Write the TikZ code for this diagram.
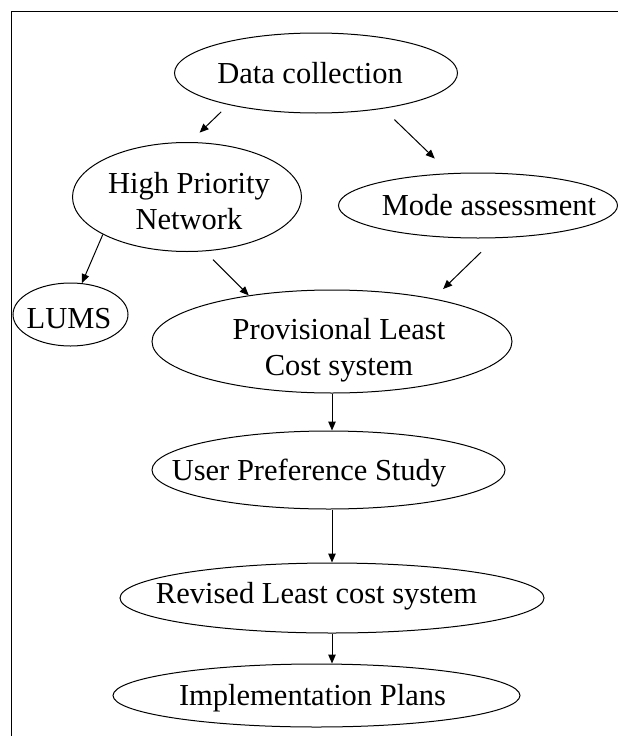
\documentclass[tikz,border=0pt]{standalone}
\usepackage{fontspec}
\setmainfont{Liberation Serif}
\usetikzlibrary{shapes.geometric,arrows.meta}

\begin{document}
\begin{tikzpicture}[x=1pt,y=-1pt,
    oval/.style={draw,ellipse,inner sep=0pt,line width=1pt},
    lbl/.style={inner sep=0pt,anchor=base,align=center,font=\fontsize{30.5}{35.5}\selectfont},
    arr/.style={line width=1pt,-{Triangle[length=9pt,width=7.5pt]}}]
  \useasboundingbox (0,0) rectangle (618,736);
  \draw[line width=1.3pt] (618,11.5) -- (11.5,11.5) -- (11.5,736);

  % the ellipses
  \foreach \n/\x/\y/\w/\h in {data/316/73/283/80, hpn/187/197/229/109,
      mode/478/205.5/279/65, lums/70.5/314.5/115/63, prov/332/341.5/360/103,
      user/328.5/470/353/78, revised/332/598/424/70, impl/316.5/695.5/407/63} {
    \node[oval,minimum width=\w,minimum height=\h] (\n) at (\x,\y) {};
  }

  % their texts (two-line ones sit on their last line)
  \node[lbl] (data-t) at (310,83) {Data collection};
  \node[lbl] (hpn-t) at (189,229) {High Priority\\Network};
  \node[lbl] (mode-t) at (489,215) {Mode assessment};
  \node[lbl] (lums-t) at (69,328) {LUMS};
  \node[lbl] (prov-t) at (339,375) {Provisional Least\\Cost system};
  \node[lbl] (user-t) at (309,480) {User Preference Study};
  \node[lbl] (revised-t) at (316.5,603) {Revised Least cost system};
  \node[lbl] (impl-t) at (312.5,705) {Implementation Plans};

  % arrows
  \draw[arr,shorten <=10pt,shorten >=13.5pt] (data.200) -- (hpn.87);
  \draw[arr,shorten <=15.7pt,shorten >=21pt] (data.332) -- (mode.131);
  \draw[arr] (hpn.204) -- (lums.70);
  \draw[arr,shorten <=11.7pt] (hpn.288) -- (prov.151);
  \draw[arr,shorten <=20pt,shorten >=13.6pt] (mode.298) -- (prov.23);
  \draw[arr] (prov.south) -- (prov.south |- user.north);
  \draw[arr] (revised.north |- user.south) -- (revised.north);
  \draw[arr] (revised.south) -- (revised.south |- impl.north);
\end{tikzpicture}
\end{document}
